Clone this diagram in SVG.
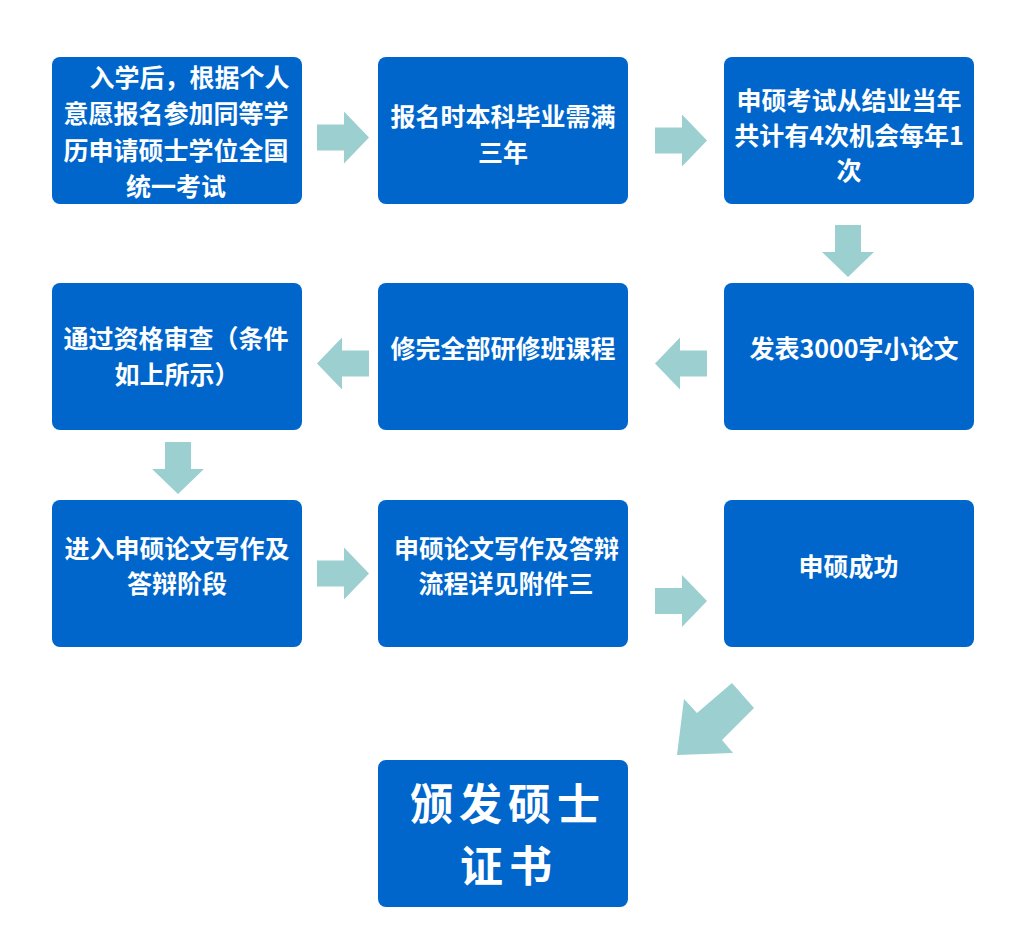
<svg xmlns="http://www.w3.org/2000/svg" xmlns:xlink="http://www.w3.org/1999/xlink" width="1016" height="945" viewBox="0 0 1016 945">
<style>
.box{fill:#0066cc}
.t{font-family:"Noto Sans CJK SC","Noto Sans CJK JP",sans-serif;font-weight:bold;font-size:25px;fill:#ffffff;text-anchor:middle}
.big{font-size:43px;letter-spacing:6px}
.arr{fill:#9ccfcf}
</style>
<defs>
<path id="ar" d="M0,-13 H27 V-26 L52,0 L27,26 V13 H0 Z"/>
</defs>
<rect width="1016" height="945" fill="#ffffff"/>
<g id="n1"><rect class="box" x="52" y="57" width="250" height="147" rx="8"/>
<text class="t" x="177" y="87" xml:space="preserve">　入学后，根据个人</text>
<text class="t" x="176" y="123">意愿报名参加同等学</text>
<text class="t" x="176" y="160">历申请硕士学位全国</text>
<text class="t" x="176" y="196">统一考试</text></g>
<g id="n2"><rect class="box" x="378" y="57" width="250" height="147" rx="8"/>
<text class="t" x="503" y="125.5">报名时本科毕业需满</text>
<text class="t" x="503" y="161.5">三年</text></g>
<g id="n3"><rect class="box" x="724" y="57" width="250" height="147" rx="8"/>
<text class="t" x="849" y="109.5">申硕考试从结业当年</text>
<text class="t" x="849" y="144.5">共计有4次机会每年1</text>
<text class="t" x="849" y="179.5">次</text></g>
<g id="n4"><rect class="box" x="724" y="283" width="250" height="147" rx="8"/>
<text class="t" x="854" y="357.5">发表3000字小论文</text></g>
<g id="n5"><rect class="box" x="378" y="283" width="250" height="147" rx="8"/>
<text class="t" x="503" y="357.5">修完全部研修班课程</text></g>
<g id="n6"><rect class="box" x="52" y="283" width="250" height="147" rx="8"/>
<text class="t" x="176" y="347.5">通过资格审查（条件</text>
<text class="t" x="177" y="383.5">如上所示）</text></g>
<g id="n7"><rect class="box" x="52" y="500" width="250" height="147" rx="8"/>
<text class="t" x="177" y="557.5">进入申硕论文写作及</text>
<text class="t" x="177" y="592.5">答辩阶段</text></g>
<g id="n8"><rect class="box" x="378" y="500" width="250" height="147" rx="8"/>
<text class="t" x="506.5" y="557.5">申硕论文写作及答辩</text>
<text class="t" x="506" y="592.5">流程详见附件三</text></g>
<g id="n9"><rect class="box" x="724" y="500" width="250" height="147" rx="8"/>
<text class="t" x="848.5" y="575.5">申硕成功</text></g>
<g id="n10"><rect class="box" x="378" y="760" width="250" height="147" rx="8"/>
<text class="t big" x="508" y="820">颁发硕士</text>
<text class="t big" x="509" y="882">证书</text></g>
<g id="connectors" class="arr">
<use xlink:href="#ar" transform="translate(317,137.5)"/>
<use xlink:href="#ar" transform="translate(655,140.5)"/>
<use xlink:href="#ar" transform="translate(848,225) rotate(90)"/>
<use xlink:href="#ar" transform="translate(707,363.5) scale(-1,1)"/>
<use xlink:href="#ar" transform="translate(369,363.5) scale(-1,1)"/>
<use xlink:href="#ar" transform="translate(178,442) rotate(90)"/>
<use xlink:href="#ar" transform="translate(317,573.5)"/>
<use xlink:href="#ar" transform="translate(655,601)"/>
<polygon points="677,755 684,699 697,713 732,683 754,708 722,740 733,753"/>
</g>
</svg>
